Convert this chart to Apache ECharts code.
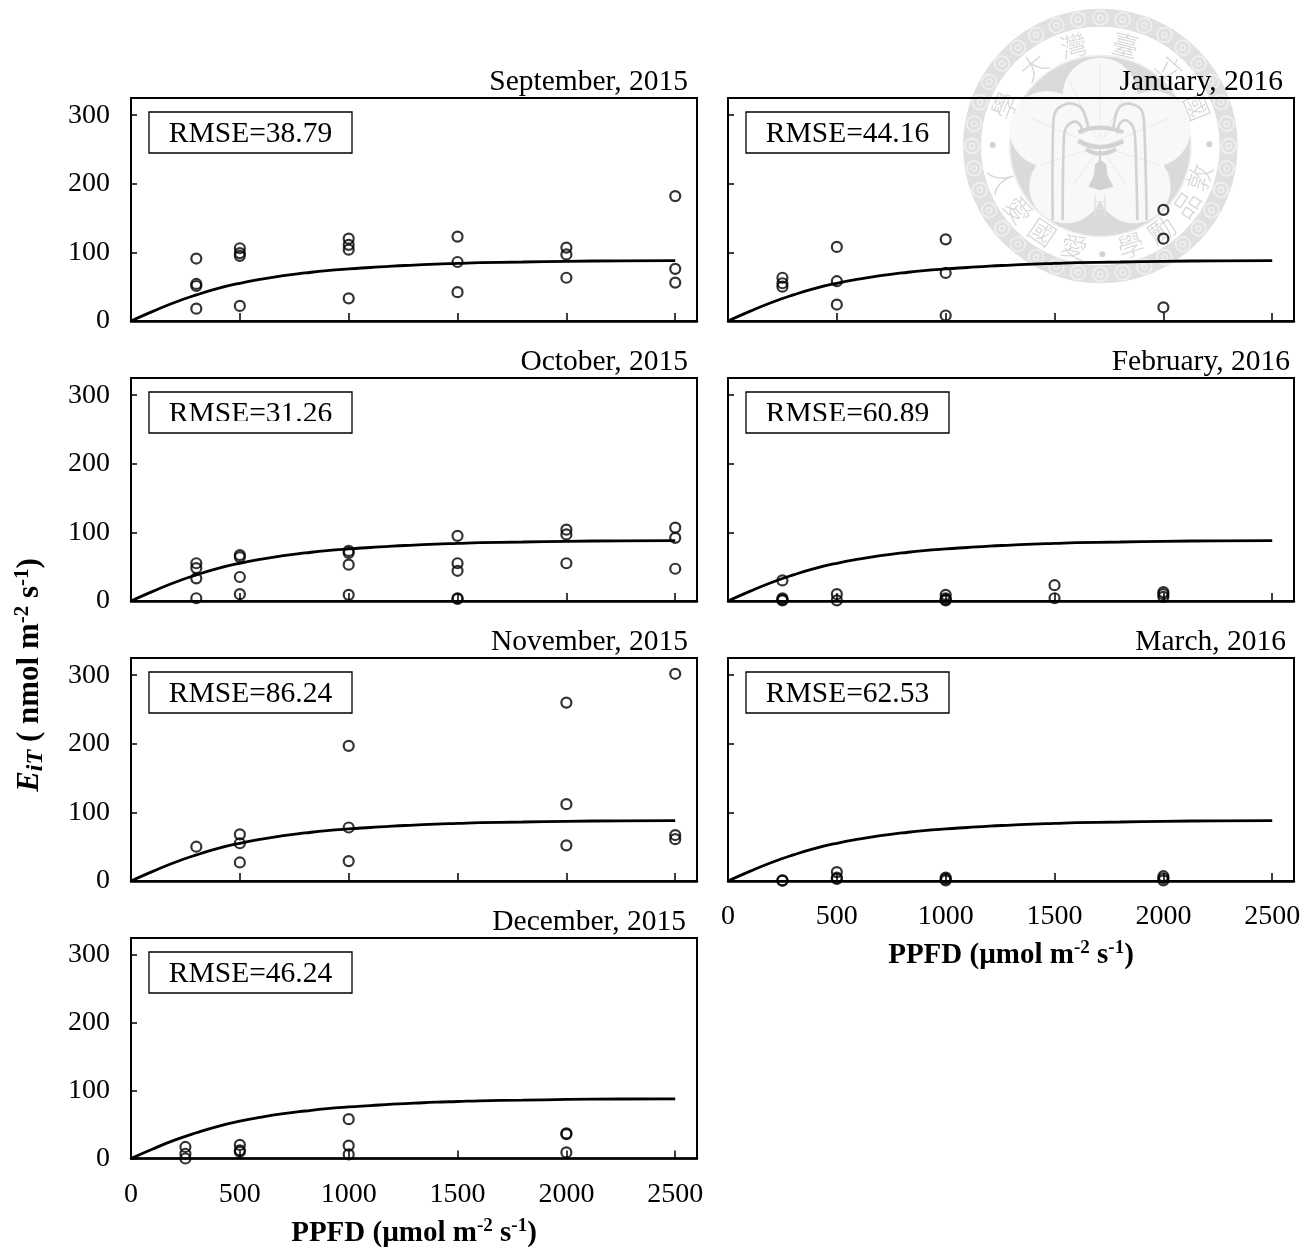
<!DOCTYPE html>
<html><head><meta charset="utf-8">
<style>html,body{margin:0;padding:0;background:#fff}#c{width:1315px;height:1249px}</style>
<script src="https://cdn.jsdelivr.net/npm/echarts@6/dist/echarts.min.js"></script>
</head><body><div id="c"></div>
<script>
const FONT='"Liberation Serif","Times New Roman",serif';
const panelTitles=['September, 2015','October, 2015','November, 2015','December, 2015','January, 2016','February, 2016','March, 2016'];
const rmseLabels=['RMSE=38.79','RMSE=31.26','RMSE=86.24','RMSE=46.24','RMSE=44.16','RMSE=60.89','RMSE=62.53'];
const xTickLabels=[0,500,1000,1500,2000,2500];
const yTickLabels=[0,100,200,300];
const curve=[[0,0],[100,14],[200,27],[300,38],[400,47.5],[500,55],[600,61],[700,66],[800,70],[900,73.5],[1000,76],[1100,78],[1200,80],[1300,81.5],[1400,83],[1500,84],[1600,85],[1800,86],[2000,87],[2250,87.7],[2500,88]];
const sep2015=[[300,91],[300,54],[300,51],[300,18],[500,106],[500,99],[500,95],[500,22],[1000,120],[1000,111],[1000,104],[1000,33],[1500,123],[1500,86],[1500,42],[2000,107],[2000,97],[2000,63],[2500,182],[2500,76],[2500,56]];
const oct2015=[[300,55],[300,48],[300,33],[300,4],[500,67],[500,64],[500,35],[500,10],[1000,73],[1000,70],[1000,53],[1000,9],[1500,95],[1500,55],[1500,44],[1500,4],[1500,3],[2000,104],[2000,97],[2000,55],[2500,107],[2500,92],[2500,47]];
const nov2015=[[300,50],[500,68],[500,55],[500,27],[1000,197],[1000,78],[1000,29],[2000,260],[2000,112],[2000,52],[2500,302],[2500,67],[2500,61]];
const dec2015=[[250,17],[250,7],[250,0],[500,20],[500,12],[500,10],[1000,58],[1000,19],[1000,6],[2000,37],[2000,36],[2000,9]];
const jan2016=[[250,63],[250,55],[250,50],[500,108],[500,58],[500,24],[1000,119],[1000,70],[1000,8],[2000,162],[2000,120],[2000,20]];
const feb2016=[[250,30],[250,4],[250,2],[250,1],[500,10],[500,1],[1000,9],[1000,4],[1000,2],[1000,1],[1500,23],[1500,4],[2000,13],[2000,10],[2000,6]];
const mar2016=[[250,1],[250,0.5],[500,13],[500,5],[500,3],[1000,5],[1000,3],[1000,1],[2000,7],[2000,4],[2000,1]];
const panelData=[sep2015,oct2015,nov2015,dec2015,jan2016,feb2016,mar2016];

const colLeft=[131,131,131,131,728,728,728];
const rowTop=[98,378,658,938,98,378,658];
const titleRight=[688,688,688,686,1283,1290,1286];
const titleTop=[67,347,627,907,67,347,627];
const clipped=[false,true,false,false,false,true,false];
const xLabelled=[false,false,false,true,false,false,true];
const yLabelled=[true,true,true,true,false,false,false];

const grid=[],xAxis=[],yAxis=[],series=[],title=[],graphic=[];
const xName={fontFamily:FONT,fontSize:29,fontWeight:'bold',color:'#000',
  rich:{b:{fontFamily:FONT,fontSize:29,fontWeight:'bold',color:'#000',lineHeight:34},
        s:{fontFamily:FONT,fontSize:19,fontWeight:'bold',color:'#000',lineHeight:34,verticalAlign:'top'}}};
panelData.forEach((pts,i)=>{
  grid.push({left:colLeft[i],top:rowTop[i],width:566,height:223,show:true,borderColor:'#000',borderWidth:2,backgroundColor:'transparent',containLabel:false});
  xAxis.push({type:'value',gridIndex:i,min:0,max:2600,interval:500,splitLine:{show:false},
    axisLine:{show:true,onZero:false,lineStyle:{color:'#000',width:2.5}},
    axisTick:{show:true,inside:true,length:8,lineStyle:{color:'#000',width:1.5}},
    axisLabel:{show:xLabelled[i],showMaxLabel:false,margin:22,fontFamily:FONT,fontSize:28,color:'#000',
      formatter:v=>xTickLabels.includes(v)?String(v):''},
    name:xLabelled[i]?'{b|PPFD (µmol m}{s|-2}{b| s}{s|-1}{b|)}':'',nameLocation:'middle',nameGap:58,nameTextStyle:xName});
  yAxis.push({type:'value',gridIndex:i,min:0,max:325,interval:100,splitLine:{show:false},
    axisLine:{show:true,onZero:false,lineStyle:{color:'#000',width:2}},
    axisTick:{show:true,inside:true,length:6,lineStyle:{color:'#000',width:1.5}},
    axisLabel:{show:yLabelled[i],showMaxLabel:false,margin:21,padding:[8,0,0,0],fontFamily:FONT,fontSize:28,color:'#000',
      formatter:v=>yTickLabels.includes(v)?String(v):''}});
  series.push({type:'line',xAxisIndex:i,yAxisIndex:i,data:curve,smooth:0.5,showSymbol:false,symbol:'none',lineStyle:{color:'#000',width:2.8},silent:true,z:3});
  series.push({type:'scatter',xAxisIndex:i,yAxisIndex:i,data:pts,symbol:'circle',symbolSize:10,itemStyle:{color:'rgba(0,0,0,0)',borderColor:'#000',borderWidth:2.2},silent:true,clip:false,z:4});
  title.push({text:panelTitles[i],right:1315-titleRight[i],top:titleTop[i],padding:0,textStyle:{fontFamily:FONT,fontSize:29.5,fontWeight:'normal',color:'#000'}});
  const bx=colLeft[i]+18, by=rowTop[i]+14;
  graphic.push({type:'text',z:20,x:bx+101.5,y:by+22,style:{text:rmseLabels[i],x:0,y:0,align:'center',verticalAlign:'middle',fontFamily:FONT,fontSize:29.5,fill:'#000'}});
  if(clipped[i]) graphic.push({type:'rect',z:21,shape:{x:bx+1,y:rowTop[i]+43,width:201,height:11},style:{fill:'#fff'}});
  graphic.push({type:'rect',z:22,shape:{x:bx,y:by,width:203,height:41},style:{fill:'none',stroke:'#000',lineWidth:1.3}});
});

/* y-axis title, rotated */
graphic.push({type:'text',z:20,x:30,y:675,rotation:Math.PI/2,style:{
  text:'{e|E}{i|iT}{b| ( nmol m}{s|-2}{b| s}{s|-1}{b|)}',align:'center',verticalAlign:'middle',
  rich:{e:{fontFamily:FONT,fontSize:31,fontWeight:'bold',fontStyle:'italic',fill:'#000',lineHeight:36},
        i:{fontFamily:FONT,fontSize:24,fontWeight:'bold',fontStyle:'italic',fill:'#000',lineHeight:36,verticalAlign:'bottom'},
        b:{fontFamily:FONT,fontSize:31,fontWeight:'bold',fill:'#000',lineHeight:36},
        s:{fontFamily:FONT,fontSize:21,fontWeight:'bold',fill:'#000',lineHeight:36,verticalAlign:'top'}}}});

/* NTU seal watermark (decorative background), drawn in zoom coordinates */
const sealKids=[];
const Z=-5, ink='#e0e0e0', dark='#d2d2d2', pale='#f8f8f8';
const C=(cx,cy,r,style)=>({type:'circle',z:Z,shape:{cx,cy,r},style});
const L=(points,style,smooth)=>({type:'polyline',z:Z,shape:{points,smooth:smooth||0},style:Object.assign({fill:'none'},style)});
sealKids.push(C(421,423,385,{fill:'none',stroke:ink,lineWidth:54}));
for(let k=0;k<36;k++){const a=k/36*2*Math.PI,cx=421+385*Math.cos(a),cy=423+385*Math.sin(a);
  sealKids.push(C(cx,cy,22,{fill:'none',stroke:'#f0f0f0',lineWidth:5}));
  sealKids.push(C(cx,cy,8,{fill:'none',stroke:'#f0f0f0',lineWidth:4}));}
sealKids.push(C(421,423,272,{fill:'#dadada',stroke:'#f0f0f0',lineWidth:5}));
[[420,270,112],[262,372,114],[578,372,114],[318,545,110],[522,545,110],[420,420,150]].forEach(p=>sealKids.push(C(p[0],p[1],p[2],{fill:pale})));
[[[420,180],[420,400]],[[330,230],[410,400]],[[510,230],[430,400]],[[215,340],[400,420]],[[625,340],[440,420]],[[240,480],[400,430]],[[600,480],[440,430]],[[340,540],[410,440]],[[500,540],[430,440]]].forEach(p=>sealKids.push(L(p,{stroke:'#eaeaea',lineWidth:3})));
[[[278,645],[280,350],[292,312],[328,295],[365,310],[385,370]],
 [[560,645],[552,350],[542,312],[505,295],[475,310],[460,370]],
 [[308,645],[312,395],[322,362],[345,350],[362,362],[368,385]],
 [[532,645],[525,395],[516,360],[495,345],[478,358],[472,385]]].forEach(p=>sealKids.push(L(p,{stroke:dark,lineWidth:8},0.3)));
[[[355,382],[420,368],[490,382]],[[355,408],[420,426],[490,408]],[[378,432],[420,446],[468,432]]].forEach(p=>sealKids.push(L(p,{stroke:dark,lineWidth:13},0.5)));
sealKids.push(L([[420,435],[420,470]],{stroke:dark,lineWidth:6}));
sealKids.push({type:'polygon',z:Z,shape:{points:[[422,465],[405,478],[402,510],[385,545],[420,556],[460,545],[442,510],[439,478]]},style:{fill:dark}});
[[[405,570],[405,640]],[[435,570],[435,640]],[[405,590],[435,590]],[[405,610],[435,610]]].forEach(p=>sealKids.push(L(p,{stroke:'#e2e2e2',lineWidth:4})));
const sealChars=[['臺',14],['立',42],['國',68],['敦',107.6],['品',124],['勵',144],['學',163],['愛',194.5],['國',214],['愛',232],['人',251],['學',293],['大',320],['灣',345]];
sealChars.forEach(([ch,ang])=>{
  const t=ang*Math.PI/180, r=312, x=421+r*Math.sin(t), y=423-r*Math.cos(t);
  const rot=(ang>100&&ang<260)?-(ang-180)*Math.PI/180:-t;
  sealKids.push({type:'text',z:Z,x,y,rotation:rot,style:{text:ch,x:0,y:0,align:'center',verticalAlign:'middle',fontFamily:'"Noto Sans CJK TC"',fontSize:80,fontWeight:300,fill:'#d6d6d6'}});
});
[[98,420],[748,418],[427,748]].forEach(p=>sealKids.push(C(p[0],p[1],9,{fill:'#d2d2d2'})));
graphic.push({type:'group',z:Z,x:960,y:5,scaleX:1/3,scaleY:1/3,silent:true,children:sealKids});

const chart=echarts.init(document.getElementById('c'),null,{renderer:'canvas',width:1315,height:1249});
chart.setOption({animation:false,backgroundColor:'#fff',title,grid,xAxis,yAxis,series,graphic:{elements:graphic},tooltip:{show:false}});
</script></body></html>
